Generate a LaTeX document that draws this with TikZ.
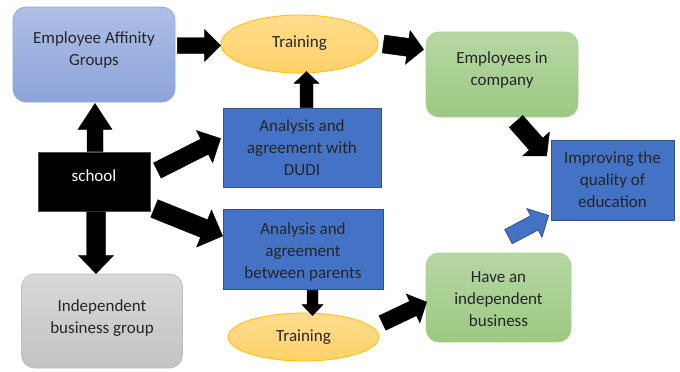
\documentclass[tikz,border=0pt]{standalone}
\usepackage{fontspec}
\setmainfont{Carlito}
\usetikzlibrary{calc,shapes.geometric}
\definecolor{bluebox}{HTML}{4472C4}
\definecolor{blueedge}{HTML}{2F528F}
\definecolor{txt}{HTML}{262626}
\newcommand\blockarr[6]{%
  \coordinate (bs) at #2; \coordinate (be) at #3;
  \coordinate (bh) at ($(be)!#6!(bs)$);
  \filldraw[#1] ($(bs)!#4!90:(be)$) -- ($(bh)!#4!90:(be)$) -- ($(bh)!#5!90:(be)$) -- (be)
    -- ($(bh)!#5!-90:(be)$) -- ($(bh)!#4!-90:(be)$) -- ($(bs)!#4!-90:(be)$) -- cycle;}
\newcommand\upby[2]{\raisebox{#1}[\height][\depth]{\begin{tabular}{@{}c@{}}#2\end{tabular}}}
\tikzset{
  every node/.style={font=\fontsize{17}{22}\selectfont, text=txt, align=center, inner sep=2pt},
  rbox/.style={rectangle, rounded corners=13pt, line width=0.8pt},
  lavbox/.style={rbox, top color=lavtop, bottom color=lavbot, draw=lavedge},
  greenbox/.style={rbox, top color=grtop, bottom color=grbot, draw=gredge},
  graybox/.style={rbox, top color=gytop, bottom color=gybot, draw=gyedge},
  bluerect/.style={rectangle, fill=bluebox, draw=blueedge, line width=0.8pt},
  trainell/.style={ellipse, top color=ortop, bottom color=orbot, draw=oredge, line width=0.8pt, inner sep=0pt},
  blk/.style={fill=black, draw=black, line width=0.4pt, line join=miter},
  bluearr/.style={fill=bluebox, draw=blueedge, line width=0.8pt, line join=miter}
}
\definecolor{lavtop}{HTML}{AEBEE6}
\definecolor{lavbot}{HTML}{8DA4DA}
\definecolor{lavedge}{HTML}{8FAADC}
\definecolor{grtop}{HTML}{B6D7A3}
\definecolor{grbot}{HTML}{9CC983}
\definecolor{gredge}{HTML}{A9D18E}
\definecolor{gytop}{HTML}{D8D8D8}
\definecolor{gybot}{HTML}{C3C3C3}
\definecolor{gyedge}{HTML}{BFBFBF}
\definecolor{ortop}{HTML}{FFDC8E}
\definecolor{orbot}{HTML}{FFD16A}
\definecolor{oredge}{HTML}{FFC000}
\begin{document}
\begin{tikzpicture}[x=1pt,y=-1pt]
\useasboundingbox (0,0) rectangle (680,372);
\fill[white] (0,0) rectangle (680,372);
% nodes
\node[lavbox, minimum width=162pt, minimum height=95pt] (eag) at (94,54.5) {\upby{4pt}{Employee Affinity\\Groups}};
\node[trainell, minimum width=157pt, minimum height=58pt] (train1) at (299.5,44) {\upby{1pt}{Training}};
\node[greenbox, minimum width=152pt, minimum height=85pt] (emp) at (502,74.5) {\upby{4pt}{Employees in\\company}};
\node[bluerect, minimum width=123pt, minimum height=80pt] (impr) at (612.5,180) {Improving the\\quality of\\education};
\node[rectangle, fill=black, draw=black!70, line width=0.6pt, minimum width=112pt, minimum height=59pt, text=white] (school) at (94,181.5) {\upby{4pt}{school}};
\node[bluerect, minimum width=158pt, minimum height=79pt] (dudi) at (302,147.5) {Analysis and\\agreement with\\DUDI};
\node[bluerect, minimum width=160pt, minimum height=80pt] (par) at (303,249) {\upby{-3pt}{Analysis and\\agreement\\between parents}};
\node[trainell, minimum width=151pt, minimum height=48pt] (train2) at (303.5,337) {Training};
\node[graybox, minimum width=161pt, minimum height=94pt] (ibg) at (102,321) {\upby{3pt}{Independent\\business group}};
\node[greenbox, minimum width=145pt, minimum height=89pt] (have) at (498.5,297.5) {\upby{-3pt}{Have an\\independent\\business}};
% block arrows
\blockarr{blk}{($(eag.east)+(2,-9)$)}{($(train1.west)+(0,1.5)$)}{8pt}{16pt}{16pt}
\blockarr{blk}{($(train1.east)+(5,0)$)}{($(emp.west)+(-2,-25)$)}{9pt}{17pt}{16pt}
\blockarr{blk}{($(dudi.north)+(4.5,0)$)}{($(train1.south)+(7,-2)$)}{6.5pt}{12.5pt}{12pt}
\blockarr{blk}{($(school.north)+(1,0)$)}{($(eag.south)+(1,1)$)}{8pt}{17pt}{26pt}
\blockarr{blk}{($(school.south)+(2,0.5)$)}{($(ibg.north)+(-6,0)$)}{9.5pt}{17.5pt}{18pt}
\blockarr{blk}{($(school.east)+(7,-11)$)}{($(dudi.west)+(-2,-9)$)}{8.5pt}{18pt}{18pt}
\blockarr{blk}{($(school.east)+(4,27)$)}{($(par.west)+(0,-13)$)}{9.5pt}{20pt}{20pt}
\blockarr{blk}{($(par.south)+(9.5,1)$)}{($(train2.north)+(9,3)$)}{5.5pt}{10.5pt}{11pt}
\blockarr{blk}{($(train2.east)+(3,-14)$)}{($(have.west)+(1,4.5)$)}{8pt}{16pt}{15pt}
\blockarr{blk}{($(emp.south)+(14,4)$)}{($(impr.west)+(-4,-24)$)}{9pt}{18pt}{16pt}
\blockarr{bluearr}{($(have.north)+(10,-16)$)}{($(impr.south west)+(-2,-5)$)}{8pt}{16pt}{16pt}
\end{tikzpicture}
\end{document}
